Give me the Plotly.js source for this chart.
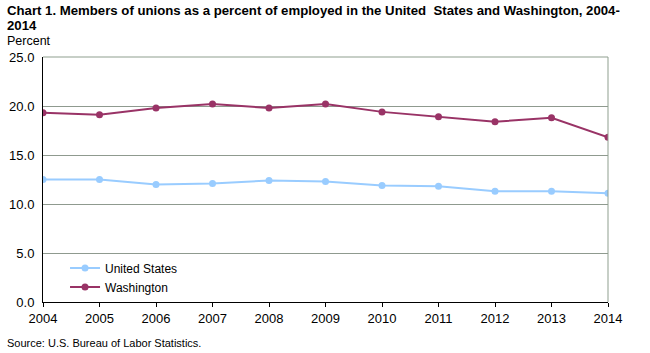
<!DOCTYPE html>
<html>
<head>
<meta charset="utf-8">
<script src="https://cdn.plot.ly/plotly-3.0.1.min.js"></script>
<style>html,body{margin:0;padding:0;background:#fff;}#chart{width:650px;height:353px;}</style>
</head>
<body>
<div id="chart"></div>
<script>
const years = [2004, 2005, 2006, 2007, 2008, 2009, 2010, 2011, 2012, 2013, 2014];
const unitedStates = [12.5, 12.5, 12.0, 12.1, 12.4, 12.3, 11.9, 11.8, 11.3, 11.3, 11.1];
const washington = [19.3, 19.1, 19.8, 20.2, 19.8, 20.2, 19.4, 18.9, 18.4, 18.8, 16.8];
const yTicks = [0, 5, 10, 15, 20, 25];
const titleLine1 = 'Chart 1. Members of unions as a percent of employed in the United  States and Washington, 2004-';
const titleLine2 = '2014';

const FONT = 'Liberation Sans, Arial, sans-serif';

const traces = [
  {
    x: years, y: unitedStates, name: 'United States', type: 'scatter', mode: 'lines+markers',
    line: {color: '#99CCFF', width: 2}, marker: {color: '#99CCFF', size: 7, symbol: 'circle'}
  },
  {
    x: years, y: washington, name: 'Washington', type: 'scatter', mode: 'lines+markers',
    line: {color: '#993366', width: 2}, marker: {color: '#993366', size: 7, symbol: 'circle'}
  }
];

const titleFont = {family: FONT, size: 13.2, color: '#000', weight: 'bold'};

const layout = {
  width: 650, height: 353,
  margin: {l: 43, r: 42, t: 57, b: 51},
  paper_bgcolor: '#ffffff', plot_bgcolor: '#ffffff',
  font: {family: FONT, size: 12, color: '#000'},
  xaxis: {
    range: [2004, 2014], tickvals: years, ticktext: years.map(String),
    showgrid: false, zeroline: false, showline: true, linecolor: '#000', linewidth: 1,
    ticks: 'outside', ticklen: 4, tickcolor: '#000',
    tickfont: {family: FONT, size: 13, color: '#000'}
  },
  yaxis: {
    range: [0, 25], tickvals: yTicks, ticktext: yTicks.map(v => v.toFixed(1)),
    showgrid: true, gridcolor: '#8f9a8f', gridwidth: 1,
    zeroline: false, showline: true, linecolor: '#000', linewidth: 1,
    ticks: '', ticklabelstandoff: 5, tickfont: {family: FONT, size: 13, color: '#000'}
  },
  legend: {
    x: 0.039, y: 0.198, xanchor: 'left', yanchor: 'top',
    bgcolor: 'rgba(0,0,0,0)', font: {family: FONT, size: 12, color: '#000'},
    tracegroupgap: 0
  },
  shapes: [
    {type: 'line', xref: 'paper', yref: 'paper', x0: 0, x1: 1, y0: 1, y1: 1, line: {color: '#8f9f8f', width: 1}},
    {type: 'line', xref: 'paper', yref: 'paper', x0: 1, x1: 1, y0: 0, y1: 1, line: {color: '#8f9f8f', width: 1}}
  ],
  annotations: [
    {text: titleLine1, xref: 'paper', yref: 'paper', x: -0.067, y: 1.188, xanchor: 'left', yanchor: 'middle',
     showarrow: false, font: titleFont},
    {text: titleLine2, xref: 'paper', yref: 'paper', x: -0.067, y: 1.13, xanchor: 'left', yanchor: 'middle',
     showarrow: false, font: titleFont},
    {text: 'Percent', xref: 'paper', yref: 'paper', x: -0.067, y: 1.066, xanchor: 'left', yanchor: 'middle',
     showarrow: false, font: {family: FONT, size: 12.5, color: '#000'}},
    {text: 'Source: U.S. Bureau of Labor Statistics.', xref: 'paper', yref: 'paper', x: -0.067, y: -0.167,
     xanchor: 'left', yanchor: 'middle', showarrow: false, font: {family: FONT, size: 11, color: '#000'}}
  ],
  showlegend: true
};

Plotly.newPlot('chart', traces, layout, {displayModeBar: false, staticPlot: true});
</script>
</body>
</html>
